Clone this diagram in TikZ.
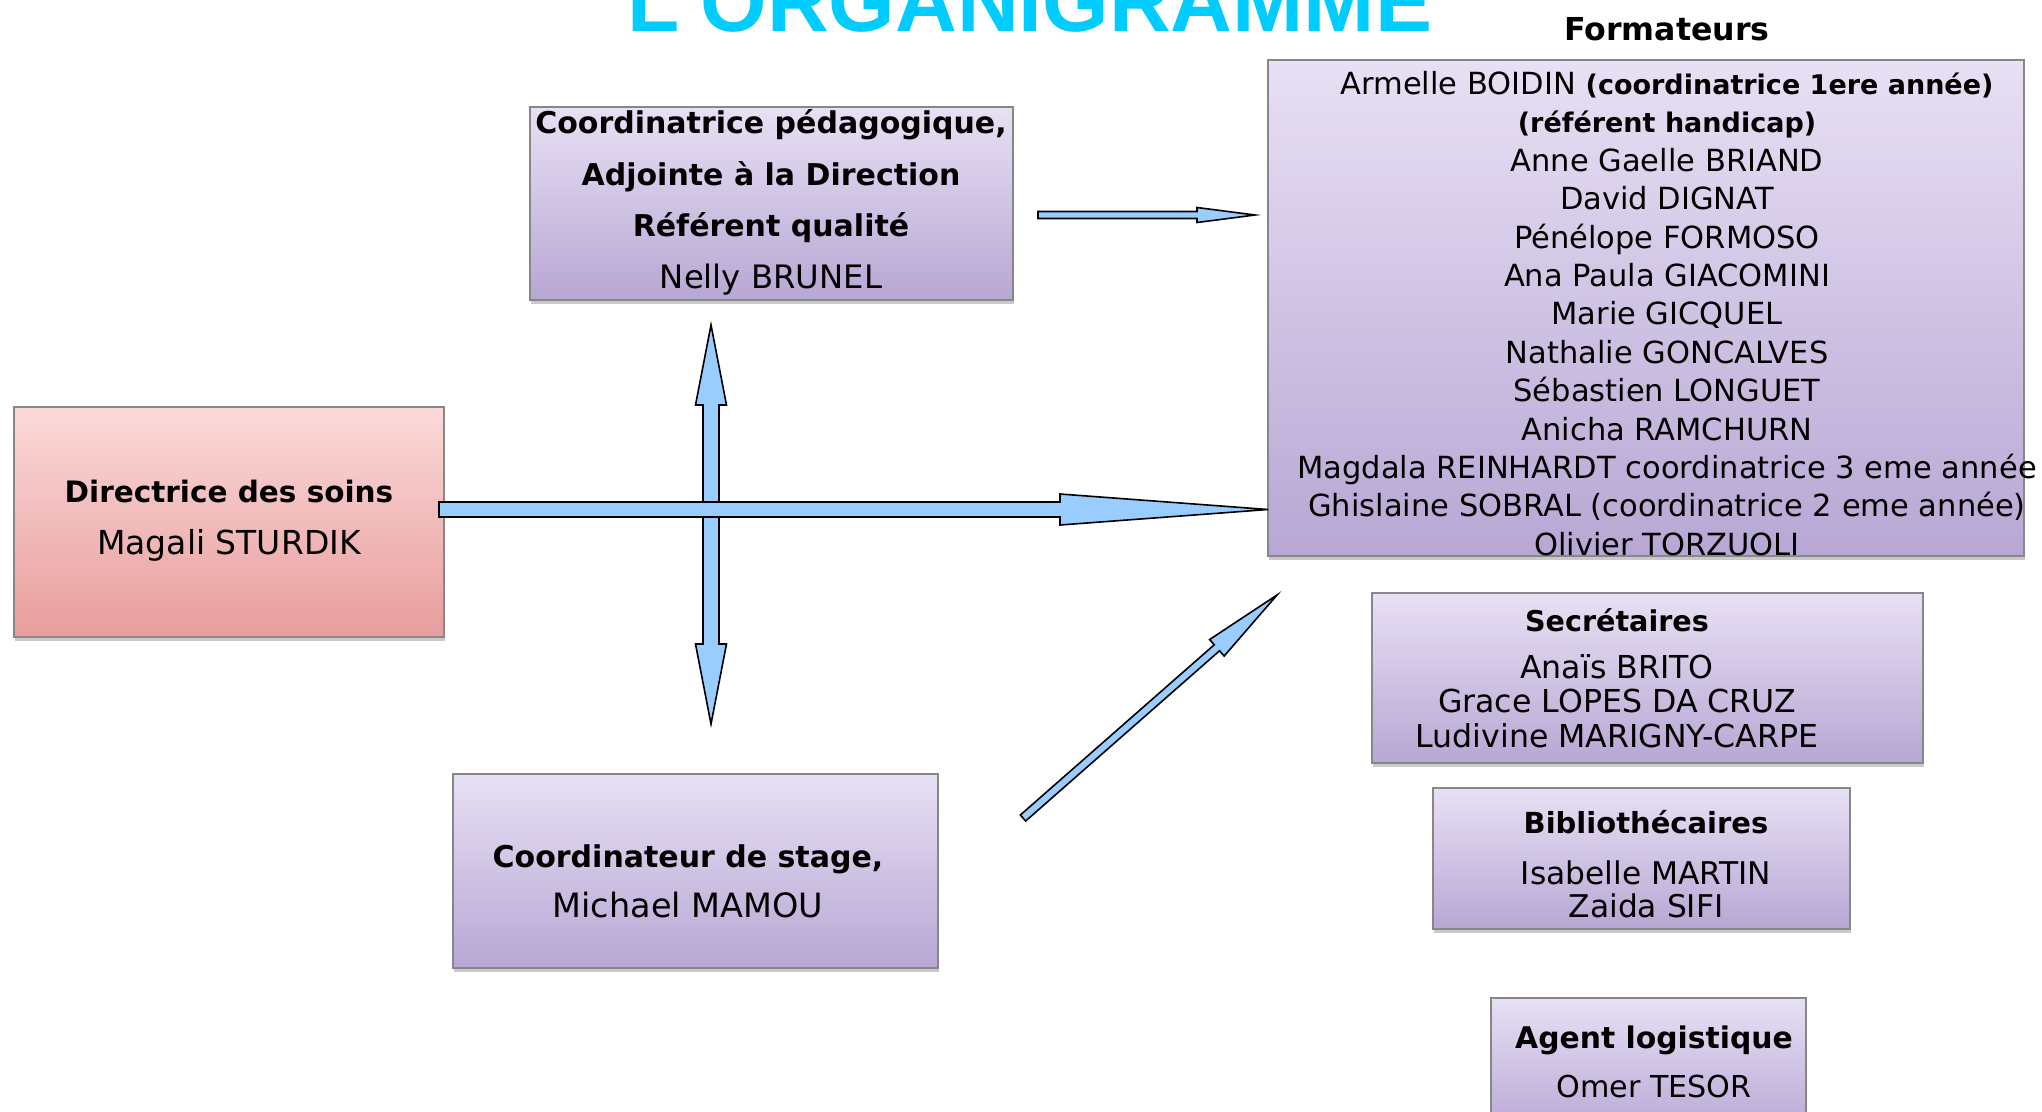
\documentclass[tikz,border=0pt]{standalone}
\usepackage{fontspec}
\setmainfont{DejaVu Sans}
\newfontfamily\titlefont{Liberation Sans}
\usetikzlibrary{calc,shadows}
\definecolor{lavtop}{RGB}{232,224,244}
\definecolor{lavbot}{RGB}{183,167,212}
\definecolor{pinktop}{RGB}{251,217,217}
\definecolor{pinkbot}{RGB}{232,157,157}
\definecolor{bordergrey}{RGB}{135,135,135}
\definecolor{arrowblue}{RGB}{153,204,255}
\definecolor{titlecyan}{RGB}{0,204,255}
\newcommand{\bx}[2][29]{{\fontsize{#1}{#1}\selectfont\bfseries #2}}
% block arrow: name, from, to, shaft half width, head half width, head length
\newcommand{\blockarrow}[6]{%
  \coordinate (#1h) at ($(#3)!#6!(#2)$);
  \draw[barrow] ($(#2)!#4!90:(#3)$) -- ($(#1h)!#4!-90:(#2)$) -- ($(#1h)!#5!-90:(#2)$)
    -- (#3) -- ($(#1h)!#5!90:(#2)$) -- ($(#1h)!#4!90:(#2)$) -- ($(#2)!#4!-90:(#3)$) -- cycle;
}
\newcommand{\dblockarrow}[6]{%
  \coordinate (#1a) at ($(#2)!#6!(#3)$);
  \coordinate (#1b) at ($(#3)!#6!(#2)$);
  \draw[barrow] (#2) -- ($(#1a)!#5!90:(#3)$) -- ($(#1a)!#4!90:(#3)$) -- ($(#1b)!#4!-90:(#2)$)
    -- ($(#1b)!#5!-90:(#2)$) -- (#3) -- ($(#1b)!#5!90:(#2)$) -- ($(#1b)!#4!90:(#2)$)
    -- ($(#1a)!#4!-90:(#3)$) -- ($(#1a)!#5!-90:(#3)$) -- cycle;
}
\tikzset{
  box/.style={draw=bordergrey, line width=1.5pt, top color=lavtop, bottom color=lavbot,
    inner sep=0pt, outer sep=0pt,
    drop shadow={shadow xshift=1pt, shadow yshift=-4pt, opacity=0.35, fill=black!60}},
  pinkbox/.style={box, top color=pinktop, bottom color=pinkbot},
  txt/.style={align=center, inner sep=0pt, outer sep=0pt, text=black},
  barrow/.style={draw=black, line width=1.6pt, fill=arrowblue, line join=miter},
}
\begin{document}
\begin{tikzpicture}[x=1pt, y=-1pt]
\fill[white] (0,0) rectangle (2042,1111);
\useasboundingbox (0,0) rectangle (2042,1111);

% title
\node[anchor=base, inner sep=0pt, text=titlecyan, font=\titlefont\bfseries\fontsize{85.5}{85.5}\selectfont] (title) at (1030,31) {L'ORGANIGRAMME};

% boxes
\node[box, minimum width=756pt, minimum height=496pt] (form) at (1646,308) {};
\node[box, minimum width=483pt, minimum height=193pt] (coord) at (771.5,203.5) {};
\node[pinkbox, minimum width=430pt, minimum height=230pt] (dir) at (229,522) {};
\node[box, minimum width=485pt, minimum height=194pt] (stage) at (695.5,871) {};
\node[box, minimum width=551pt, minimum height=170pt] (sec) at (1647.5,678) {};
\node[box, minimum width=417pt, minimum height=141pt] (bib) at (1641.5,858.5) {};
\node[box, minimum width=315pt, minimum height=137pt] (agent) at (1648.5,1066.5) {};

% texts
\node[txt, font=\bfseries\fontsize{31.6}{31.6}\selectfont] (formlabel) at (1667,29) {Formateurs};
\node[txt, font=\fontsize{30.5}{38.4}\selectfont] (formtxt) at (1667,313.5) {%
Armelle BOIDIN \bx[27]{(coordinatrice 1ere année)}\\
\bx[27]{(référent handicap)}\\
Anne Gaelle BRIAND\\
David DIGNAT\\
Pénélope FORMOSO\\
Ana Paula GIACOMINI\\
Marie GICQUEL\\
Nathalie GONCALVES\\
Sébastien LONGUET\\
Anicha RAMCHURN\\
Magdala REINHARDT coordinatrice 3 eme année\\
Ghislaine SOBRAL (coordinatrice 2 eme année)\\
Olivier TORZUOLI};
\node[txt, font=\fontsize{32.3}{51.6}\selectfont] (coordtxt) at (771,202.5) {%
\bx[30]{Coordinatrice pédagogique,}\\
\bx[30]{Adjointe à la Direction}\\
\bx[30]{Référent qualité}\\
Nelly BRUNEL};
\node[txt, font=\fontsize{33}{52}\selectfont] (dirtxt) at (229,521) {%
\bx[29.5]{Directrice des soins}\\
Magali STURDIK};
\node[txt, font=\fontsize{33.5}{50}\selectfont] (stagetxt) at (688,881) {%
\bx[30]{Coordinateur de stage,}\\
Michael MAMOU};
\node[txt, font=\fontsize{31.6}{34.5}\selectfont] (sectxt) at (1617,678) {%
\bx[28.6]{Secrétaires}\\[12.5pt]
Anaïs BRITO\\
Grace LOPES DA CRUZ\\
Ludivine MARIGNY-CARPE};
\node[txt, font=\fontsize{31.3}{33}\selectfont] (bibtxt) at (1646,864) {%
\bx[29]{Bibliothécaires}\\[18pt]
Isabelle MARTIN\\
Zaida SIFI};
\node[txt, font=\fontsize{30.2}{49}\selectfont] (agenttxt) at (1654,1061.5) {%
\bx[29.8]{Agent logistique}\\
Omer TESOR};

% arrows
\coordinate (vA) at (711,325);
\coordinate (vB) at (711,724);
\coordinate (hA) at (439,509.5);
\coordinate (hB) at (form.west |- hA);
\coordinate (sA) at (1038,215);
\coordinate (sB) at (1255,215);
\coordinate (dA) at (1023,818);
\coordinate (dB) at (1277,595);
\dblockarrow{v}{vA}{vB}{8pt}{15.5pt}{80pt}
\blockarrow{h}{hA}{hB}{7.5pt}{15.5pt}{208pt}
\blockarrow{s}{sA}{sB}{3.5pt}{7.5pt}{58pt}
\blockarrow{d}{dA}{dB}{4pt}{11pt}{80pt}
\end{tikzpicture}
\end{document}
